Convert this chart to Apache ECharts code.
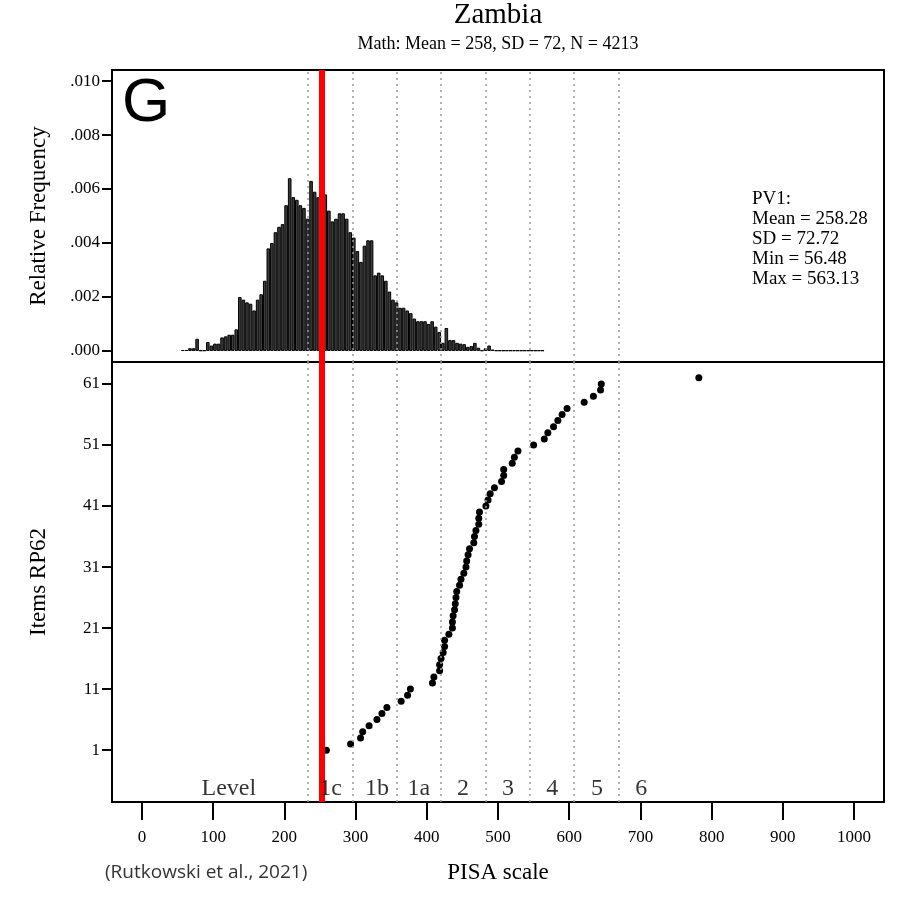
<!DOCTYPE html>
<html>
<head>
<meta charset="utf-8">
<script src="https://cdn.jsdelivr.net/npm/echarts@6/dist/echarts.min.js"></script>
<style>
html,body{margin:0;padding:0;background:#fff;}
#chart{width:897px;height:899px;}
</style>
</head>
<body>
<div id="chart"></div>
<script>
// ---------- DATA ----------
// Histogram (PV1 math, relative frequency), bin centres in PISA points
const binCenters = [57.5,62.5,67.5,72.5,77.5,82.5,87.5,92.5,97.5,102.5,107.5,112.5,117.5,122.5,127.5,132.5,137.5,142.5,147.5,152.5,157.5,162.5,167.5,172.5,177.5,182.5,187.5,192.5,197.5,202.5,207.5,212.5,217.5,222.5,227.5,232.5,237.5,242.5,247.5,252.5,257.5,262.5,267.5,272.5,277.5,282.5,287.5,292.5,297.5,302.5,307.5,312.5,317.5,322.5,327.5,332.5,337.5,342.5,347.5,352.5,357.5,362.5,367.5,372.5,377.5,382.5,387.5,392.5,397.5,402.5,407.5,412.5,417.5,422.5,427.5,432.5,437.5,442.5,447.5,452.5,457.5,462.5,467.5,472.5,477.5,482.5,487.5,492.5,497.5,502.5,507.5,512.5,517.5,522.5,527.5,532.5,537.5,542.5,547.5,552.5,557.5,562.5];
const relFreq = [0.00003,0.00003,0.0001,0.0001,0.00045,0.00002,0.00002,0.00033,0.0002,0.00027,0.00027,0.0005,0.00054,0.0006,0.0006,0.0008,0.002,0.0019,0.0018,0.00175,0.0015,0.0019,0.0021,0.0026,0.0038,0.004,0.0044,0.0046,0.0047,0.0054,0.0064,0.0057,0.0056,0.0054,0.0053,0.0049,0.0063,0.0059,0.0057,0.0054,0.0058,0.0052,0.0048,0.0049,0.0051,0.0051,0.0049,0.0044,0.0042,0.0037,0.0033,0.0039,0.0041,0.0041,0.0028,0.0029,0.0028,0.0026,0.0022,0.0019,0.0018,0.0016,0.0016,0.0015,0.0014,0.0012,0.0011,0.0011,0.0011,0.0010,0.0011,0.0009,0.0007,0.0003,0.00085,0.0004,0.0004,0.0003,0.00027,0.00025,0.00015,0.00018,0.0003,0.00012,0.00002,0.0001,0.0002,0.00005,0.00002,0.00002,0.00002,0.00002,0.00002,0.00002,0.00002,0.00002,0.00002,0.00002,0.00002,0.00002,0.00002,0.00002];

// Items at RP62: PISA location and item rank
const itemPisa = [259,293,307,310,319,330,337,344,364,373,377,408,410,418,418,420,423,425,425,431,436,436,437,439,440,441,442,446,448,452,455,456,458,460,466,467,469,473,473,474,483,486,489,495,505,508,508,520,523,528,550,565,570,578,584,590,597,621,634,644,645,782];
const itemRank = [1,2,3,4,5,6,7,8,9,10,11,12,13,14,15,16,17,18,19,20,21,22,23,24,25,26,27,28,29,30,31,32,33,34,35,36,37,38,39,40,41,42,43,44,45,46,47,48,49,50,51,52,53,54,55,56,57,58,59,60,61,62];

// Proficiency level cut points and labels
const levelCuts = [233.17,295.47,357.77,420.07,482.38,544.68,606.99,669.30];
const levelNames = ['Level','1c','1b','1a','2','3','4','5','6'];
const levelLabelX = [122,265,330,389,451,514,576,639,701];
const levelLabelY = -5.3;

const meanLine = 253;

// Tick values
const xTicks = [0,100,200,300,400,500,600,700,800,900,1000];
const freqTicks = [0,0.002,0.004,0.006,0.008,0.010];
const itemTicks = [1,11,21,31,41,51,61];

const titleText = 'Zambia';
const subtitleText = 'Math: Mean = 258, SD = 72, N = 4213';
const statsLines = ['PV1:','Mean = 258.28','SD = 72.72','Min = 56.48','Max = 563.13'];
const sourceText = '(Rutkowski et al., 2021)';

// ---------- CHART ----------
const SERIF = '"Liberation Serif", "Times New Roman", serif';
const chart = echarts.init(document.getElementById('chart'), null, {renderer:'canvas'});

const X_MIN = -42, X_MAX = 1042;
const levelLineData = levelCuts.map(v => ({xAxis: v}));

const option = {
  animation: false,
  backgroundColor: '#fff',
  grid: [
    {left:112, right:13, top:70, height:292, show:true, borderColor:'#000', borderWidth:2, backgroundColor:'transparent'},
    {left:112, right:13, top:362, bottom:97, show:true, borderColor:'#000', borderWidth:2, backgroundColor:'transparent'}
  ],
  xAxis: [
    {gridIndex:0, type:'value', min:X_MIN, max:X_MAX, show:false},
    {gridIndex:1, type:'value', min:X_MIN, max:X_MAX,
      axisLine:{show:false, onZero:false},
      axisTick:{show:true, length:18, customValues:xTicks, lineStyle:{color:'#000', width:2}},
      axisLabel:{customValues:xTicks, color:'#000', fontFamily:SERIF, fontSize:17, margin:27,
        formatter: v => String(v)},
      splitLine:{show:false},
      name:'PISA scale', nameLocation:'middle', nameGap:59,
      nameTextStyle:{color:'#000', fontFamily:SERIF, fontSize:23}
    }
  ],
  yAxis: [
    {gridIndex:0, type:'value', min:-0.00041, max:0.01041,
      axisLine:{show:false, onZero:false},
      axisTick:{show:true, length:10, customValues:freqTicks, lineStyle:{color:'#000', width:2}},
      axisLabel:{customValues:freqTicks, color:'#000', fontFamily:SERIF, fontSize:17, margin:12,
        formatter: v => v.toFixed(3).replace(/^0/, '')},
      splitLine:{show:false},
      name:'Relative Frequency', nameLocation:'middle', nameGap:62, nameRotate:90,
      nameTextStyle:{color:'#000', fontFamily:SERIF, fontSize:23}
    },
    {gridIndex:1, type:'value', min:-7.5, max:64.6,
      axisLine:{show:false, onZero:false},
      axisTick:{show:true, length:10, customValues:itemTicks, lineStyle:{color:'#000', width:2}},
      axisLabel:{customValues:itemTicks, color:'#000', fontFamily:SERIF, fontSize:17, margin:12},
      splitLine:{show:false},
      name:'Items RP62', nameLocation:'middle', nameGap:62, nameRotate:90,
      nameTextStyle:{color:'#000', fontFamily:SERIF, fontSize:23}
    }
  ],
  series: [
    {
      type:'bar', xAxisIndex:0, yAxisIndex:0, z:3,
      data: binCenters.map((c,i) => [c, relFreq[i]]),
      barWidth: 3.6,
      itemStyle:{color:'#3c3c3c', borderColor:'#000', borderWidth:1},
      markLine:{silent:true, symbol:['none','none'], label:{show:false},
        lineStyle:{color:'#9a9a9a', type:[2,4], width:1.5}, data: levelLineData}
    },
    {
      type:'scatter', xAxisIndex:1, yAxisIndex:1, z:4,
      data: itemPisa.map((x,i) => [x, itemRank[i]]),
      symbol:'circle', symbolSize:7,
      itemStyle:{color:'#000', opacity:1},
      markLine:{silent:true, symbol:['none','none'], label:{show:false},
        lineStyle:{color:'#9a9a9a', type:[2,4], width:1.5}, data: levelLineData}
    },
    {
      type:'scatter', xAxisIndex:1, yAxisIndex:1, z:5,
      data: levelNames.map((n,i) => ({name:n, value:[levelLabelX[i], levelLabelY]})),
      symbolSize:0,
      label:{show:true, position:'inside', formatter: p => p.name, color:'#000', fontFamily:SERIF, fontSize:24}
    },
    {
      type:'line', xAxisIndex:0, yAxisIndex:0, z:10, data:[],
      markLine:{silent:true, symbol:['none','none'], label:{show:false},
        lineStyle:{color:'#ff0000', type:'solid', width:6}, data:[{xAxis:meanLine}]}
    },
    {
      type:'line', xAxisIndex:1, yAxisIndex:1, z:10, data:[],
      markLine:{silent:true, symbol:['none','none'], label:{show:false},
        lineStyle:{color:'#ff0000', type:'solid', width:6}, data:[{xAxis:meanLine}]}
    }
  ],
  graphic: [
    {type:'text', x:498, y:15, z:20, style:{text:titleText, textAlign:'center', textVerticalAlign:'middle', fontFamily:SERIF, fontSize:29, fill:'#000'}},
    {type:'text', x:498, y:44, z:20, style:{text:subtitleText, textAlign:'center', textVerticalAlign:'middle', fontFamily:SERIF, fontSize:18, fill:'#000'}},
    {type:'text', x:122, y:104, z:20, style:{text:'G', textAlign:'left', textVerticalAlign:'middle', fontFamily:'"Liberation Sans", Arial, sans-serif', fontSize:62, fill:'#000'}},
    {type:'text', x:752, y:189, z:20, style:{text:statsLines.join('\n'), textAlign:'left', textVerticalAlign:'top', fontFamily:SERIF, fontSize:19, lineHeight:20, fill:'#000'}},
    {type:'text', x:105, y:873, z:20, style:{text:sourceText, textAlign:'left', textVerticalAlign:'middle', fontFamily:'"Open Sans", "Noto Sans", sans-serif', fontSize:19, fill:'#333'}}
  ]
};
chart.setOption(option);
</script>
</body>
</html>
